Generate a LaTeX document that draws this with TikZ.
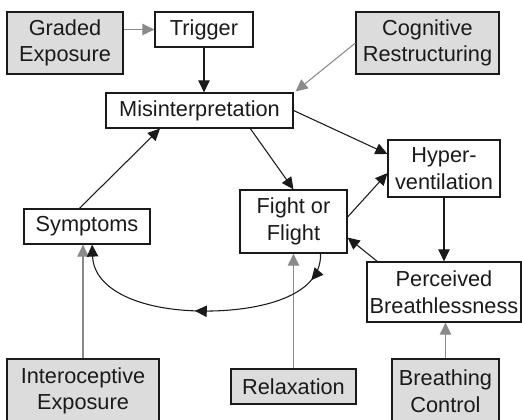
\documentclass[tikz,border=0pt]{standalone}
\usepackage{fontspec}
\setmainfont{Liberation Sans}
\usetikzlibrary{arrows.meta,calc,decorations.markings}
\definecolor{boxgray}{HTML}{DCDCDC}
\definecolor{linkgray}{HTML}{8A8A8A}
\definecolor{ink}{HTML}{1A1A1A}
\tikzset{
  base/.style={draw=ink, line width=0.9pt, align=center, inner sep=0pt,
    font=\fontsize{16.3}{20}\selectfont, text=ink},
  stage/.style={base, fill=white},
  therapy/.style={base, fill=boxgray},
  tip/.tip={Triangle[length=9pt,width=8.5pt]},
  flow/.style={draw=ink, line width=0.8pt, -tip},
  help/.style={draw=linkgray, line width=0.8pt, -tip, linkgray},
}
\begin{document}
\begin{tikzpicture}[x=0.75pt,y=-0.75pt]
\useasboundingbox (0,0) rectangle (522,419);

% cycle stages
\node[stage, minimum width=98*0.75pt, minimum height=35*0.75pt] (trig) at (204,29.5) {Trigger};
\node[stage, minimum width=187*0.75pt, minimum height=35*0.75pt] (mis) at (199.5,110.5) {Misinterpretation};
\node[stage, minimum width=112*0.75pt, minimum height=57*0.75pt] (hyp) at (444,168.5) {Hyper-\\ventilation};
\node[stage, minimum width=126*0.75pt, minimum height=35*0.75pt] (sym) at (87,226.5) {Symptoms};
\node[stage, minimum width=107*0.75pt, minimum height=63*0.75pt] (fof) at (293.5,221.5) {Fight or\\Flight};
\node[stage, minimum width=154*0.75pt, minimum height=60*0.75pt] (perc) at (444,292) {Perceived\\Breathlessness};

% interventions
\node[therapy, minimum width=116*0.75pt, minimum height=62*0.75pt] (grad) at (65,43) {Graded\\Exposure};
\node[therapy, minimum width=143*0.75pt, minimum height=62*0.75pt] (cog) at (427.5,43) {Cognitive\\Restructuring};
\node[therapy, minimum width=152*0.75pt, minimum height=64*0.75pt] (intero) at (83,391) {Interoceptive\\Exposure};
\node[therapy, minimum width=125*0.75pt, minimum height=35*0.75pt] (relax) at (293.5,386.5) {Relaxation};
\node[therapy, minimum width=107*0.75pt, minimum height=64*0.75pt] (breath) at (445.5,391) {Breathing\\Control};

% intervention links
\draw[help] (grad.east |- trig.west) -- (trig.west);
\draw[help] (cog.west) -- ($(mis.north east)+(2,-1)$);
\draw[help] (intero.north) -- (intero.north |- sym.south);
\draw[help] (relax.north) -- (fof.south);
\draw[help] (breath.north) -- (breath.north |- perc.south);

% cycle links
\draw[flow] (trig.south) -- (trig.south |- mis.north);
\draw[flow] (mis.east) -- ($(hyp.north west)!0.25!(hyp.south west)$);
\draw[flow] ($(mis.south west)!0.77!(mis.south east)$) -- (fof.north);
\draw[flow] ($(sym.north west)!0.44!(sym.north east)$) -- ($(mis.south west)!0.29!(mis.south east)$);
\draw[flow] ($(fof.north east)!0.43!(fof.south east)$) -- ($(hyp.north west)!0.58!(hyp.south west)$);
\draw[flow] (hyp.south) -- (hyp.south |- perc.north);
\draw[flow] ($(perc.north west)!0.07!(perc.north east)$) -- ($(fof.north east)!0.75!(fof.south east)$);

% loop back from fight or flight to symptoms
\coordinate (loopstart) at ($(fof.south west)!0.75!(fof.south east)$);
\coordinate (loopend) at ($(sym.south west)!0.54!(sym.south east)$);
\draw[flow, postaction={decorate}, decoration={markings,
    mark=at position 0.10 with {\arrow{tip}},
    mark=at position 0.53 with {\arrow{tip}}}]
  (loopstart) .. controls (322,300) and (250,312) .. (200,311)
  .. controls (140,310) and (94,290) .. (loopend);
\end{tikzpicture}
\end{document}
